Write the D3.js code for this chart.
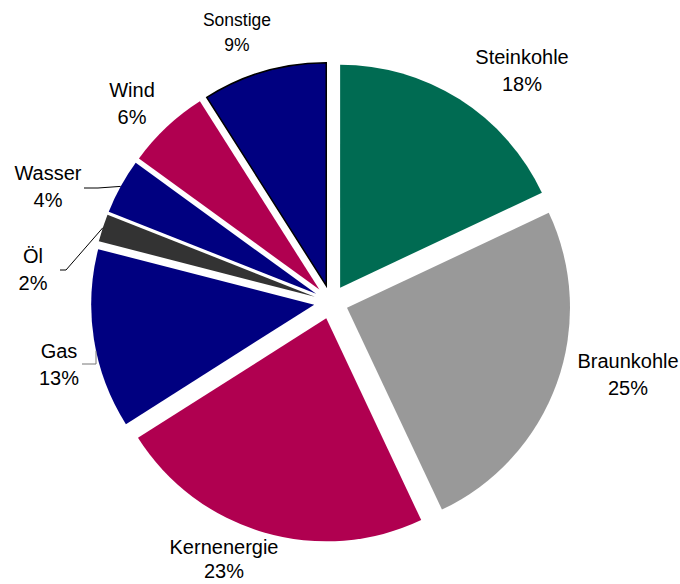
<!DOCTYPE html>
<html>
<head>
<meta charset="utf-8">
<script src="https://cdn.jsdelivr.net/npm/d3@7"></script>
<style>
  html, body { margin: 0; padding: 0; background: #fff; }
  svg { display: block; }
  text { font-family: "Liberation Sans", Arial, sans-serif; fill: #000; }
</style>
</head>
<body>
<svg id="chart" width="680" height="584"></svg>
<script>
// Anteile der Energieträger an der Stromerzeugung (%)
const categories = ["Steinkohle", "Braunkohle", "Kernenergie", "Gas", "Öl", "Wasser", "Wind", "Sonstige"];
const shares     = [18, 25, 23, 13, 2, 4, 6, 9];
const colors     = ["#006b52", "#999999", "#b00050", "#000080", "#333333", "#000080", "#b00050", "#000080"];

// label anchor points (text centre, first line baseline), font sizes, line gaps
const labelPos = [
  [522, 64], [628, 368], [224, 554], [59, 358],
  [33, 263], [48, 180], [132, 97], [237, 26]
];
const labelSize = [20, 20, 20, 20, 20, 20, 20, 17.5];
const labelGap  = [27, 27, 24, 27, 27, 27, 27, 25];

const cx = 331, cy = 302, R = 223, explode = 17;

const svg = d3.select("#chart");
const g = svg.append("g").attr("transform", `translate(${cx},${cy})`);

const pie = d3.pie().sort(null).value(d => d.v).startAngle(0).endAngle(2 * Math.PI);
const arc = d3.arc().innerRadius(0).outerRadius(R);

const data = pie(categories.map((c, i) => ({ c, v: shares[i], col: colors[i] })));

// offset of an exploded slice along its bisector
function shift(d) {
  const a = (d.startAngle + d.endAngle) / 2;
  return [explode * Math.sin(a), -explode * Math.cos(a)];
}

g.selectAll("path.slice")
  .data(data)
  .join("path")
  .attr("class", "slice")
  .attr("d", arc)
  .attr("fill", d => d.data.col)
  .attr("stroke", d => d.data.c === "Sonstige" ? "#000" : "none")
  .attr("stroke-width", 1.5)
  .attr("transform", d => `translate(${shift(d)})`);

// leader lines: fixed points near the label, last point on the slice rim
const byName = Object.fromEntries(data.map(d => [d.data.c, d]));
function rimMid(name) {
  const d = byName[name];
  const a = (d.startAngle + d.endAngle) / 2;
  const [sx, sy] = shift(d);
  return [cx + sx + R * Math.sin(a), cy + sy - R * Math.cos(a)];
}
function rimAtX(name, x) {
  const d = byName[name];
  const [sx, sy] = shift(d);
  const ox = cx + sx, oy = cy + sy;
  const h = Math.sqrt(R * R - (x - ox) * (x - ox));
  return [x, oy + h];
}

const leaders = [
  { pts: [[60, 270], [66, 270], rimMid("Öl")], col: "#000" },
  { pts: [[84, 188], [98, 188], rimMid("Wasser")], col: "#000" },
  { pts: [[82, 364], [96, 364], rimAtX("Gas", 96)], col: "#777" }
];
const line = d3.line();
svg.selectAll("path.leader")
  .data(leaders)
  .join("path")
  .attr("class", "leader")
  .attr("d", d => line(d.pts))
  .attr("fill", "none")
  .attr("stroke", d => d.col)
  .attr("stroke-width", 1);

// labels: name and percentage on two lines
const labels = svg.selectAll("text.lbl")
  .data(data)
  .join("text")
  .attr("class", "lbl")
  .attr("text-anchor", "middle")
  .attr("font-size", (d, i) => labelSize[i])
  .attr("x", (d, i) => labelPos[i][0])
  .attr("y", (d, i) => labelPos[i][1]);

labels.append("tspan")
  .attr("x", (d, i) => labelPos[i][0])
  .text(d => d.data.c);
labels.append("tspan")
  .attr("x", (d, i) => labelPos[i][0])
  .attr("dy", (d, i) => labelGap[i])
  .text(d => d.data.v + "%");
</script>
</body>
</html>
